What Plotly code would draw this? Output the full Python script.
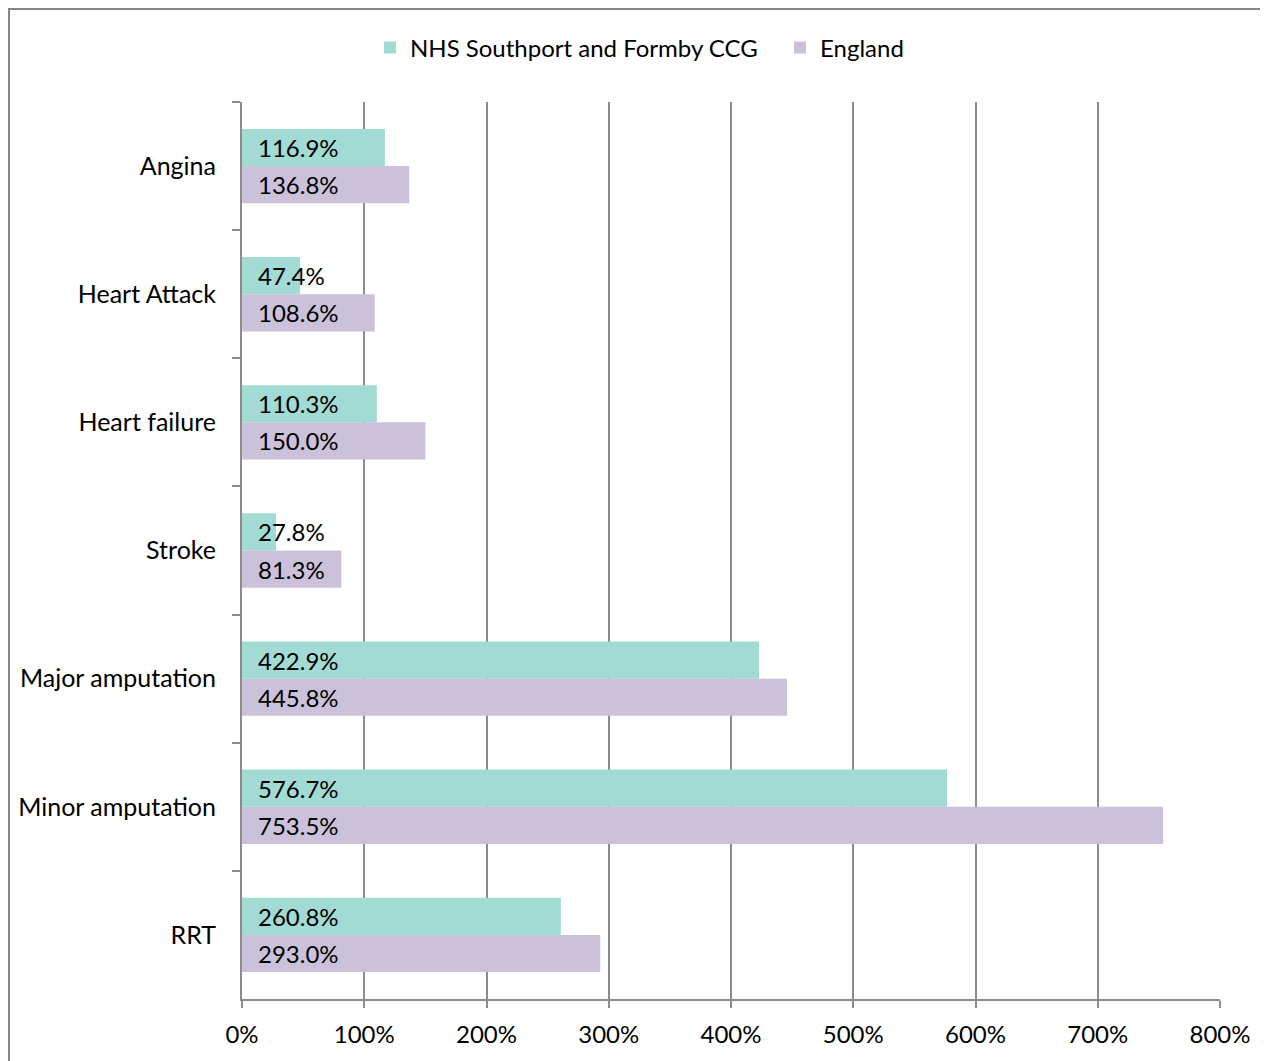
import plotly.graph_objects as go

categories = ["Angina", "Heart Attack", "Heart failure", "Stroke",
              "Major amputation", "Minor amputation", "RRT"]
ccg_values = [116.9, 47.4, 110.3, 27.8, 422.9, 576.7, 260.8]
england_values = [136.8, 108.6, 150.0, 81.3, 445.8, 753.5, 293.0]
series_names = ["NHS Southport and Formby CCG", "England"]
tick_values = [0, 100, 200, 300, 400, 500, 600, 700, 800]
tick_labels = [f"{v}%" for v in tick_values]

FONT = "Lato, Carlito, Calibri, sans-serif"
FS = 24
TEAL = "#A2DAD4"
LAV = "#CCC1DA"
GRID = "#8C8C8C"

# page body has an 8px margin; compensate
W, H = 1260, 1053
ML, MR, MT, MB = 234, 48, 94, 62
PW = W - ML - MR
PH = H - MT - MB
X0, Y1 = 242, 102  # screen position of plot area's top-left


def px_x(sx):
    return (sx - X0) / PW


def px_y(sy):
    return 1 + (Y1 - sy) / PH


fig = go.Figure()
fig.add_trace(go.Bar(y=categories, x=ccg_values, orientation="h", legend="legend",
                     name=series_names[0], marker=dict(color=TEAL, line=dict(width=0))))
fig.add_trace(go.Bar(y=categories, x=england_values, orientation="h", legend="legend2",
                     name=series_names[1], marker=dict(color=LAV, line=dict(width=0))))

bargap = 0.42
band = PH / len(categories)
half = band * (1 - bargap) / 4

annotations = []
for cat, a, b in zip(categories, ccg_values, england_values):
    annotations.append(dict(x=0, y=cat, xref="x", yref="y", text=f"{a:.1f}%",
                            showarrow=False, xanchor="left", yanchor="middle",
                            xshift=14, yshift=half, font=dict(family=FONT, size=FS, color="black")))
    annotations.append(dict(x=0, y=cat, xref="x", yref="y", text=f"{b:.1f}%",
                            showarrow=False, xanchor="left", yanchor="middle",
                            xshift=14, yshift=-half, font=dict(family=FONT, size=FS, color="black")))

legend_common = dict(orientation="h", xanchor="left", yanchor="middle", y=px_y(48),
                     font=dict(family=FONT, size=FS, color="black"),
                     bgcolor="rgba(0,0,0,0)", itemwidth=30)

fig.update_layout(
    width=W, height=H,
    margin=dict(l=ML, r=MR, t=MT, b=MB, autoexpand=False),
    paper_bgcolor="white", plot_bgcolor="white",
    barmode="group", bargap=bargap, bargroupgap=0,
    font=dict(family=FONT, size=FS, color="black"),
    showlegend=True,
    legend=dict(x=px_x(387 - 17), **legend_common),
    legend2=dict(x=px_x(797 - 17), **legend_common),
    annotations=annotations,
    xaxis=dict(range=[0, 800], tickmode="array", tickvals=tick_values, ticktext=tick_labels,
               showgrid=True, gridcolor=GRID, gridwidth=2,
               showline=True, linecolor=GRID, linewidth=2,
               ticks="outside", ticklen=7, tickcolor=GRID, tickwidth=2,
               ticklabelstandoff=6,
               zeroline=False, tickfont=dict(family=FONT, size=FS, color="black")),
    yaxis=dict(autorange="reversed", showgrid=False, showline=True, linecolor=GRID, linewidth=2,
               ticks="outside", ticklen=8, tickcolor=GRID, tickwidth=2, tickson="boundaries",
               ticklabelstandoff=19, tickfont=dict(family=FONT, size=25, color="black")),
    shapes=[dict(type="rect", xref="paper", yref="paper",
                 x0=-(ML - 1) / PW, x1=1.2, y0=-0.2, y1=1 + (MT - 1) / PH,
                 line=dict(color="#868686", width=2), fillcolor="rgba(0,0,0,0)", layer="below")],
)

fig.write_html("out.html")
